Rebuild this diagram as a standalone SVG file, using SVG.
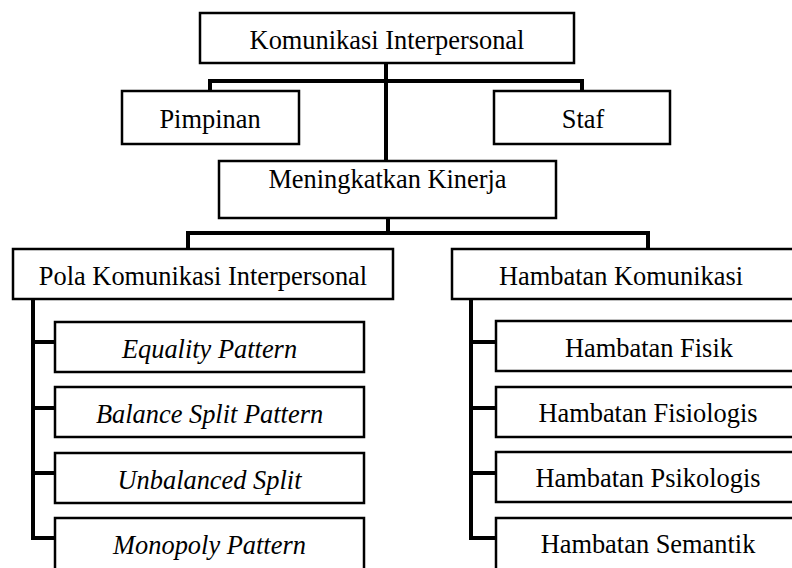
<svg xmlns="http://www.w3.org/2000/svg" width="792" height="568" viewBox="0 0 792 568">
<style>
.box{fill:#fff;stroke:#000;stroke-width:2.5}
.t{font-family:"Liberation Serif","Times New Roman",serif;font-size:26.4px;fill:#000;text-anchor:middle}
.i{font-style:italic}
.c{fill:none;stroke:#000;stroke-width:4;stroke-linejoin:miter;stroke-linecap:butt}
</style>
<rect width="792" height="568" fill="#fff"/>
<g id="connectors">
<path class="c" d="M386 63 V161"/>
<path class="c" d="M210 91 V81 H582 V91"/>
<path class="c" d="M388 218 V233"/>
<path class="c" d="M188 249 V233 H648 V249"/>
<path class="c" d="M33 299 V538 H55 M33 342 H55 M33 408 H55 M33 473 H55"/>
<path class="c" d="M471 299 V538 H496 M471 342 H496 M471 408 H496 M471 473 H496"/>
</g>
<g id="n-komunikasi"><rect class="box" x="200" y="13" width="374" height="50"/><text class="t" x="387" y="49">Komunikasi Interpersonal</text></g>
<g id="n-pimpinan"><rect class="box" x="122" y="91" width="177" height="53"/><text class="t" x="210" y="128">Pimpinan</text></g>
<g id="n-staf"><rect class="box" x="494" y="91" width="176" height="53"/><text class="t" x="583" y="128">Staf</text></g>
<g id="n-kinerja"><rect class="box" x="219" y="161" width="337" height="57"/><text class="t" x="387.5" y="188">Meningkatkan Kinerja</text></g>
<g id="n-pola"><rect class="box" x="13" y="249" width="380" height="50"/><text class="t" x="203" y="285">Pola Komunikasi Interpersonal</text></g>
<g id="n-hambatan"><rect class="box" x="452" y="249" width="360" height="50"/><text class="t" x="621" y="285">Hambatan Komunikasi</text></g>
<g id="n-equality"><rect class="box" x="55" y="322" width="309" height="50"/><text class="t i" x="209.5" y="358">Equality Pattern</text></g>
<g id="n-balance"><rect class="box" x="55" y="387" width="309" height="50"/><text class="t i" x="209.5" y="423">Balance Split Pattern</text></g>
<g id="n-unbalanced"><rect class="box" x="55" y="453" width="309" height="50"/><text class="t i" x="209.5" y="489">Unbalanced Split</text></g>
<g id="n-monopoly"><rect class="box" x="55" y="518" width="309" height="60"/><text class="t i" x="209.5" y="554">Monopoly Pattern</text></g>
<g id="n-fisik"><rect class="box" x="496" y="321" width="316" height="50"/><text class="t" x="649" y="357">Hambatan Fisik</text></g>
<g id="n-fisiologis"><rect class="box" x="496" y="387" width="316" height="50"/><text class="t" x="648" y="422">Hambatan Fisiologis</text></g>
<g id="n-psikologis"><rect class="box" x="496" y="452" width="316" height="50"/><text class="t" x="648" y="487">Hambatan Psikologis</text></g>
<g id="n-semantik"><rect class="box" x="496" y="518" width="316" height="60"/><text class="t" x="648" y="553">Hambatan Semantik</text></g>
</svg>
